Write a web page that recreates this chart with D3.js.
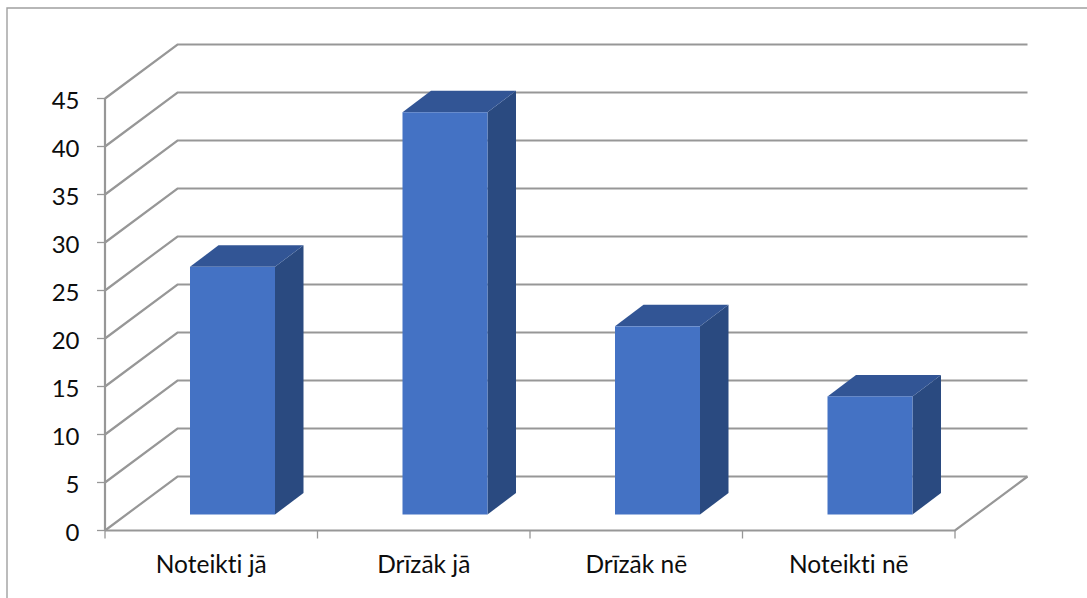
<!DOCTYPE html>
<html><head><meta charset="utf-8">
<script src="https://cdn.jsdelivr.net/npm/d3@7"></script>
<style>html,body{margin:0;padding:0;background:#fff;overflow:hidden}svg{display:block}text{font-family:Lato,sans-serif;fill:#0d0d0d;font-variant-ligatures:none}</style>
</head><body><svg id="c" width="1087" height="598"></svg>
<script>
const categories = ["Noteikti jā","Drīzāk jā","Drīzāk nē","Noteikti nē"];
const seriesValues = [25.8,41.9,19.6,12.3];
const yTicks = [0,5,10,15,20,25,30,35,40,45];

const W=1087,H=598;
const svg=d3.select("#c");
const grid="#979797";
const plot={left:105,right:955,top:98.5,bottom:530.5};
const depth={dx:72.5,dy:-54};
const barDepth={dx:28.5,dy:-21.5};
const y=d3.scaleLinear().domain([0,45]).range([plot.bottom,plot.top]);
const x=d3.scaleBand().domain(categories).range([plot.left,plot.right]);
const bw=x.bandwidth();

// frame
svg.append("path").attr("d",`M7,${H}V8H${W}`).attr("fill","none").attr("stroke","#a0a0a0").attr("stroke-width",1.4);

// walls
const g=svg.append("g").attr("fill","none").attr("stroke",grid).attr("stroke-width",2.2);
yTicks.forEach(t=>{
  g.append("path").attr("d",`M${plot.left},${y(t)}L${plot.left+depth.dx},${y(t)+depth.dy}H${plot.right+depth.dx}`);
});
g.append("path").attr("d",`M${plot.left},${plot.bottom}H${plot.right}L${plot.right+depth.dx},${plot.bottom+depth.dy}`);
g.append("path").attr("d",`M${plot.left},${plot.top}V${plot.bottom}`);

// y ticks and labels
yTicks.forEach(t=>{
  g.append("path").attr("d",`M${plot.left-8},${y(t)}H${plot.left}`).attr("stroke-width",1.3);
  svg.append("text").attr("x",79.5).attr("y",y(t)+1.5).attr("dy","0.36em").attr("text-anchor","end").attr("font-size",24).text(t);
});
// x ticks and labels
const xt=[...categories.map(c=>x(c)),plot.right];
xt.forEach(v=>g.append("path").attr("d",`M${v},${plot.bottom}V${plot.bottom+8}`).attr("stroke-width",1.3));
categories.forEach(c=>{
  svg.append("text").attr("x",x(c)+bw/2).attr("y",573).attr("text-anchor","middle").attr("font-size",24.5).text(c);
});

// bars
const floorY=514.5;
const barH=v=>plot.bottom-y(v);
const bars=svg.append("g");
categories.forEach((c,i)=>{
  const v=seriesValues[i];
  const x0=x(c)+bw*0.4,x1=x0+bw*0.4,top=floorY-barH(v);
  const d=barDepth;
  bars.append("path").attr("fill","#2a4a80").attr("d",`M${x1},${floorY}V${top}l${d.dx},${d.dy}V${floorY+d.dy}Z`);
  bars.append("path").attr("fill","#325595").attr("d",`M${x0},${top}l${d.dx},${d.dy}H${x1+d.dx}L${x1},${top}Z`);
  bars.append("rect").attr("x",x0).attr("y",top).attr("width",x1-x0).attr("height",floorY-top).attr("fill","#4472c4");
});
</script></body></html>
